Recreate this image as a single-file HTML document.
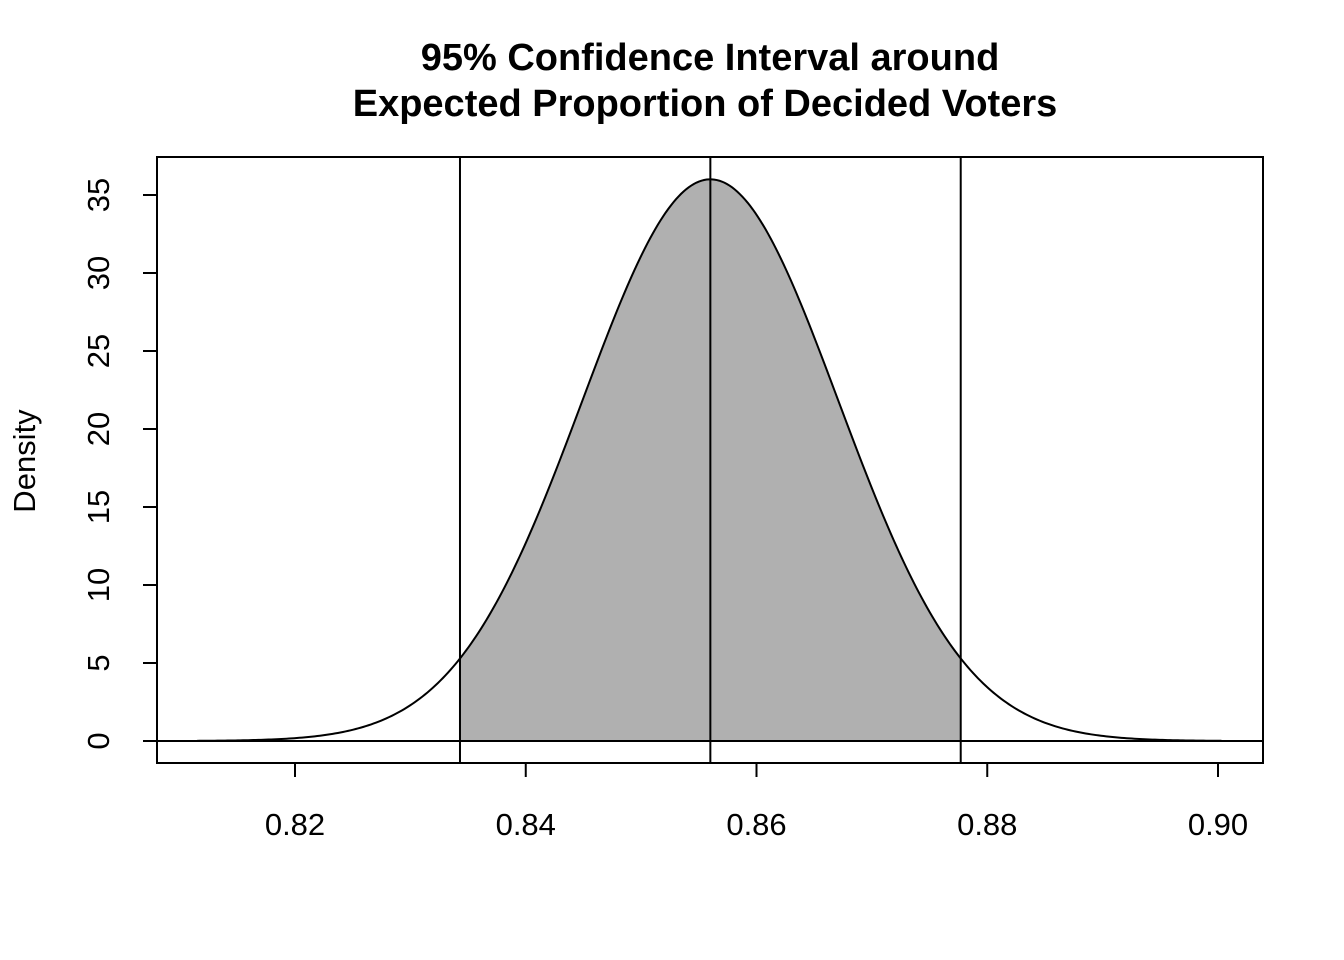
<!DOCTYPE html>
<html><head><meta charset="utf-8"><style>
html,body{margin:0;padding:0;background:#fff;}
svg{display:block;font-family:"Liberation Sans",Arial,sans-serif;}
</style></head><body>
<svg id="chart" width="1344" height="960" viewBox="0 0 1344 960">
<text x="710" y="70" text-anchor="middle" font-size="38" font-weight="bold">95% Confidence Interval around</text>
<text x="705" y="116" text-anchor="middle" font-size="38" font-weight="bold">Expected Proportion of Decided Voters</text>
<text transform="translate(35,461) rotate(-90)" text-anchor="middle" font-size="31">Density</text>
<g id="plot"></g>
</svg>
<script>
const xTicks=[0.82,0.84,0.86,0.88,0.90];
const xTickLabels=["0.82","0.84","0.86","0.88","0.90"];
const yTicks=[0,5,10,15,20,25,30,35];
const yTickLabels=["0","5","10","15","20","25","30","35"];
const meanValue=[0.856];
const sdValue=[0.01108];
const ciBounds=[0.8343,0.8777];
const curveRange=[0.8115,0.9003];

const NS="http://www.w3.org/2000/svg";
const g=document.getElementById('plot');
const X=v=>295+(v-0.82)/0.02*230.75;
const Y=v=>741-v*15.6;
function mk(t,a){const e=document.createElementNS(NS,t);for(const k in a)e.setAttribute(k,a[k]);g.appendChild(e);return e;}
const m=meanValue[0],s=sdValue[0];
const dens=x=>Math.exp(-0.5*((x-m)/s)**2)/(s*Math.sqrt(2*Math.PI));

let d=`M${X(ciBounds[0])},${Y(0)}`;
for(let i=0;i<=200;i++){const x=ciBounds[0]+(ciBounds[1]-ciBounds[0])*i/200;d+=` L${X(x).toFixed(2)},${Y(dens(x)).toFixed(2)}`;}
d+=` L${X(ciBounds[1])},${Y(0)} Z`;
const area=mk('path',{d:d,fill:'#b0b0b0',stroke:'none'});



let c='';
for(let i=0;i<=400;i++){const x=curveRange[0]+(curveRange[1]-curveRange[0])*i/400;c+=(i?' L':'M')+X(x).toFixed(2)+','+Y(dens(x)).toFixed(2);}
const curve=mk('path',{d:c,fill:'none',stroke:'#000','stroke-width':2});



const bl=mk('line',{x1:157,x2:1263,y1:Y(0),y2:Y(0),stroke:'#000','stroke-width':2});



[ciBounds[0],m,ciBounds[1]].forEach((v,i)=>{
  const l=mk('line',{x1:X(v),x2:X(v),y1:157,y2:763,stroke:'#000','stroke-width':2});
  
  
});

const fr=mk('rect',{x:157,y:157,width:1106,height:606,fill:'none',stroke:'#000','stroke-width':2});



xTicks.forEach((v,i)=>{
  const t=mk('line',{x1:X(v),x2:X(v),y1:763,y2:777,stroke:'#000','stroke-width':2});
  
  
  const lb=mk('text',{x:X(v),y:835,'text-anchor':'middle','font-size':31});
  lb.textContent=xTickLabels[i];
  
  
});
const ya=mk('line',{x1:157,x2:157,y1:Y(0),y2:Y(35),stroke:'#000','stroke-width':2});


yTicks.forEach((v,i)=>{
  const t=mk('line',{x1:143,x2:157,y1:Y(v),y2:Y(v),stroke:'#000','stroke-width':2});
  
  
  const lb=mk('text',{transform:`translate(109,${Y(v)}) rotate(-90)`,'text-anchor':'middle','font-size':31});
  lb.textContent=yTickLabels[i];
  
  
});
</script>
</body></html>
